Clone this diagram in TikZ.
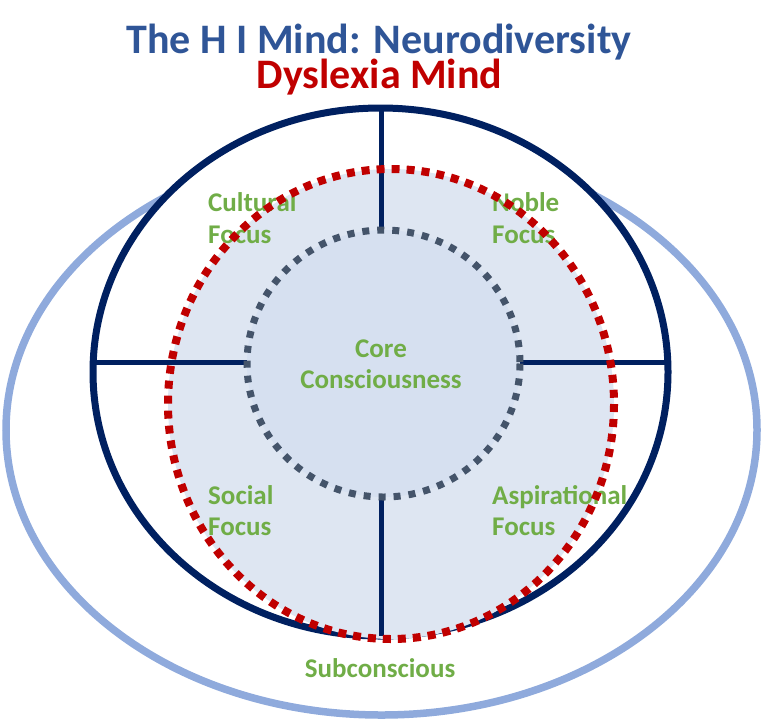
\documentclass[tikz,border=0pt]{standalone}
\usepackage{fontspec}
\setmainfont{Carlito}
\definecolor{navyc}{HTML}{002060}
\definecolor{lblue}{HTML}{8FAADC}
\definecolor{redd}{HTML}{C00000}
\definecolor{grayd}{HTML}{44546A}
\definecolor{fillout}{HTML}{DEE6F2}
\definecolor{fillin}{HTML}{D6E0F0}
\definecolor{titleblue}{HTML}{2F5597}
\definecolor{greenl}{HTML}{70AD47}
\tikzset{
  lbl/.style={inner sep=0pt, anchor=base west, text=greenl, font=\fontsize{27}{32}\selectfont\bfseries},
  lblc/.style={inner sep=0pt, anchor=base, text=greenl, font=\fontsize{27}{32}\selectfont\bfseries},
  ttl/.style={inner sep=0pt, anchor=base, font=\fontsize{42}{46}\selectfont\bfseries},
  divider/.style={draw=navyc, line width=5pt},
}
\begin{document}
\begin{tikzpicture}[x=1pt,y=-1pt]
\useasboundingbox (0,0) rectangle (762,724);
% outer light blue ellipse
\draw[lblue, line width=7.5pt] (381.5,430) ellipse [x radius=375.5, y radius=285];
% navy circle
\filldraw[fill=white, draw=navyc, line width=7pt] (380.5,372) ellipse [x radius=287.5, y radius=264];
% red ellipse fill
\fill[fillout] (391,404) ellipse [x radius=223, y radius=235];
% inner circle fill
\fill[fillin] (383.5,363.5) ellipse [x radius=136.5, y radius=133.5];
% coordinates
\coordinate (topN) at (381,108);
\coordinate (topC) at (381,230);
\coordinate (botC) at (381,497);
\coordinate (botN) at (381,636);
\coordinate (leftN) at (93,362);
\coordinate (leftC) at (247,362);
\coordinate (rightC) at (520,362);
\coordinate (rightN) at (668,362);
\draw[divider] (topN) -- (topC);
\draw[divider] (botC) -- (botN);
\draw[divider] (leftN) -- (leftC);
\draw[divider] (rightC) -- (rightN);
% gray dotted circle
\draw[grayd, line width=7pt, dash pattern=on 7pt off 8pt] (383.5,363.5) ellipse [x radius=136.5, y radius=133.5];
% labels
\node[lbl] (cult1) at (208,211) {Cultural};
\node[lbl] (cult2) at (208,243) {Focus};
\node[lbl] (nob1) at (492,211) {Noble};
\node[lbl] (nob2) at (492,243) {Focus};
\node[lbl] (soc1) at (208,504) {Social};
\node[lbl] (soc2) at (208,535) {Focus};
\node[lbl] (asp1) at (492,504) {Aspirational};
\node[lbl] (asp2) at (492,535) {Focus};
\node[lblc] (core1) at (381,357) {Core};
\node[lblc] (core2) at (381,388) {Consciousness};
\node[lblc] (sub) at (380,677) {Subconscious};
% red dotted ellipse
\draw[redd, line width=8pt, dash pattern=on 8pt off 7pt] (391,404) ellipse [x radius=223, y radius=235];
% titles
\node[ttl, text=titleblue] (title1) at (379,53) {The H I Mind: Neurodiversity};
\node[ttl, text=redd] (title2) at (379.5,88) {Dyslexia Mind};
\end{tikzpicture}
\end{document}
